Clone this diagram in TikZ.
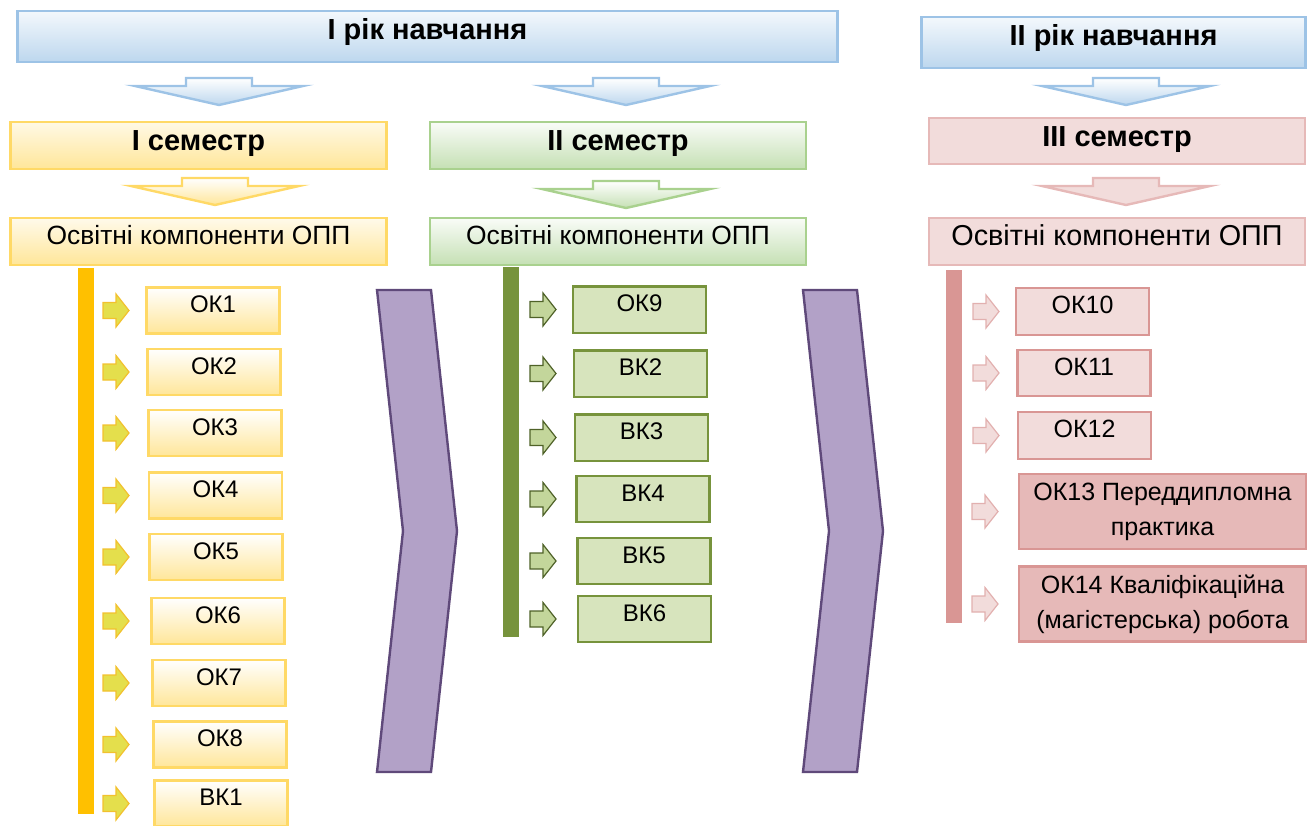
\documentclass[tikz,border=0pt]{standalone}
\usepackage{fontspec}
\setmainfont{Liberation Sans}
\usepackage{tikz}
\usetikzlibrary{calc}

\definecolor{blueline}{HTML}{9DC3E6}
\definecolor{bluefill}{HTML}{BDD7EE}
\definecolor{yelline}{HTML}{FFD966}
\definecolor{yelfill}{HTML}{FFE699}
\definecolor{yelbar}{HTML}{FFC000}
\definecolor{yelarrow}{HTML}{E4DF4C}
\definecolor{yelarrowline}{HTML}{F2C12E}
\definecolor{grnline}{HTML}{A9D18E}
\definecolor{grnfill}{HTML}{C5E0B4}
\definecolor{grnitem}{HTML}{D7E4BD}
\definecolor{grnitemline}{HTML}{77933C}
\definecolor{grnarrow}{HTML}{C3D69B}
\definecolor{grnarrowline}{HTML}{4F6228}
\definecolor{pnkfill}{HTML}{F2DCDB}
\definecolor{pnkline}{HTML}{E6B9B8}
\definecolor{pnkdark}{HTML}{D99694}
\definecolor{chevfill}{HTML}{B2A1C7}
\definecolor{chevline}{HTML}{5F497A}

\tikzset{
  box/.style={inner sep=0pt, line width=1.25pt, text height=0.72em},
  yeartitle/.style={box, draw=blueline, top color=blueline!12, bottom color=bluefill,
    font=\bfseries\fontsize{14.5}{17}\selectfont, text depth=0.38em, minimum height=25.5pt},
  sembox/.style={box, font=\bfseries\fontsize{14.5}{17}\selectfont, text depth=0.21em,
    minimum width=188pt, minimum height=23.5pt},
  semyel/.style={sembox, draw=yelline, top color=yelfill!25, bottom color=yelfill},
  semgrn/.style={sembox, draw=grnline, top color=grnfill!10, bottom color=grnfill},
  sempnk/.style={sembox, draw=pnkline, fill=pnkfill, minimum height=23pt},
  oppbox/.style={box, font=\fontsize{13.2}{16}\selectfont, text depth=0.38em,
    minimum width=188pt, minimum height=23.5pt},
  oppyel/.style={oppbox, draw=yelline, top color=yelfill!20, bottom color=yelfill},
  oppgrn/.style={oppbox, draw=grnline, top color=grnfill!10, bottom color=grnfill},
  opppnk/.style={oppbox, draw=pnkline, fill=pnkfill, font=\fontsize{14.4}{17}\selectfont,
    text depth=0.28em},
  itembox/.style={box, font=\fontsize{12}{14}\selectfont, text depth=0.5em,
    minimum width=66.5pt, minimum height=23.2pt},
  yitem/.style={itembox, draw=yelline, top color=white, bottom color=yelfill},
  gitem/.style={itembox, draw=grnitemline, fill=grnitem, line width=1.2pt},
  pitem/.style={itembox, draw=pnkdark, fill=pnkfill, line width=1.1pt,
    font=\fontsize{12.5}{14}\selectfont},
  pbig/.style={inner sep=0pt, draw=pnkdark, fill=pnkline, line width=1.1pt, align=center,
    font=\fontsize{12.5}{17.5}\selectfont,
    minimum width=143.5pt, minimum height=37.5pt},
  barr/.style={draw=blueline, line width=1.2pt, top color=white, bottom color=bluefill},
  yarrdown/.style={draw=yelline, line width=1.2pt, top color=white, bottom color=yelfill},
  garrdown/.style={draw=grnline, line width=1.2pt, top color=white, bottom color=grnfill},
  parrdown/.style={draw=pnkline, line width=1.2pt, fill=pnkfill},
  yarr/.style={draw=yelarrowline, fill=yelarrow, line width=0.6pt},
  garr/.style={draw=grnarrowline, fill=grnarrow, line width=0.6pt},
  parr/.style={draw=pnkdark!75, fill=pnkfill, line width=0.6pt},
  chev/.style={draw=chevline, fill=chevfill, line width=1.2pt, line join=miter},
  downarr/.pic={\path[pic actions] (-33,0) -- (33,0) -- (33,8) -- (84,8) -- (0,27)
    -- (-84,8) -- (-33,8) -- cycle;},
  rarr/.pic={\path[pic actions] (0,-8) -- (13,-8) -- (13,-16.5) -- (26,0) -- (13,16.5)
    -- (13,8) -- (0,8) -- cycle;}
}

\begin{document}
\begin{tikzpicture}[x=0.5pt,y=-0.5pt]
\useasboundingbox (0,0) rectangle (1315,825);

% years
\node[yeartitle, minimum width=410pt] (yr1) at (427.5,36.5) {I рік навчання};
\node[yeartitle, minimum width=192pt] (yr2) at (1113.5,42.5) {II рік навчання};

\pic[barr] at (219,78) {downarr};
\pic[barr] at (626,78) {downarr};
\pic[barr] at (1126,78) {downarr};

% semesters
\node[semyel] (sem1) at (198.5,145.5) {I семестр};
\node[semgrn] (sem2) at (618,145.5) {II семестр};
\node[sempnk] (sem3) at (1117,141) {III семестр};

\pic[yarrdown] at (215,178) {downarr};
\pic[garrdown] at (626,181) {downarr};
\pic[parrdown] at (1126,178) {downarr};

\node[oppyel] (opp1) at (198.5,241.5) {Освітні компоненти ОПП};
\node[oppgrn] (opp2) at (618,241.5) {Освітні компоненти ОПП};
\node[opppnk] (opp3) at (1117,241.5) {Освітні компоненти ОПП};

% bars
\fill[yelbar] (78,268) rectangle (94,814);
\fill[grnitemline] (503,267) rectangle (519,637);
\fill[pnkdark] (946,270) rectangle (962,623);

% first semester
\foreach \t/\x/\y [count=\i] in {ОК1/213/310.5, ОК2/214/372, ОК3/215/433,
    ОК4/215.5/495.5, ОК5/216/557, ОК6/218/621, ОК7/219/683, ОК8/220/744.5,
    ВК1/221/803.5} {
  \node[yitem] (y\i) at (\x,\y) {\t};
  \pic[yarr] at (103,0 |- y\i.west) {rarr};
}

% second semester
\foreach \t/\x/\y [count=\i] in {ОК9/639.5/309.5, ВК2/640.5/373.5, ВК3/641.5/437.5,
    ВК4/643/499, ВК5/644/561, ВК6/644.5/619} {
  \node[gitem] (g\i) at (\x,\y) {\t};
  \pic[garr] at (530,0 |- g\i.west) {rarr};
}

% third semester
\foreach \t/\x/\y [count=\i] in {ОК10/1082.5/311.5, ОК11/1084/373, ОК12/1084.5/435.5} {
  \node[pitem] (p\i) at (\x,\y) {\t};
  \pic[parr] at (973,0 |- p\i.west) {rarr};
}
\node[pbig] (p4) at (1162.5,511.5) {ОК13 Переддипломна\\практика};
\node[pbig] (p5) at (1162.5,604) {ОК14 Кваліфікаційна\\(магістерська) робота};
\pic[parr] at (972,0 |- p4.west) {rarr};
\pic[parr] at (972,0 |- p5.west) {rarr};

% chevrons
\filldraw[chev] (377,290) -- (431,290) -- (457,531) -- (431,772) -- (377,772) -- (403,531) -- cycle;
\filldraw[chev] (803,290) -- (857,290) -- (883,531) -- (857,772) -- (803,772) -- (829,531) -- cycle;
\end{tikzpicture}
\end{document}
